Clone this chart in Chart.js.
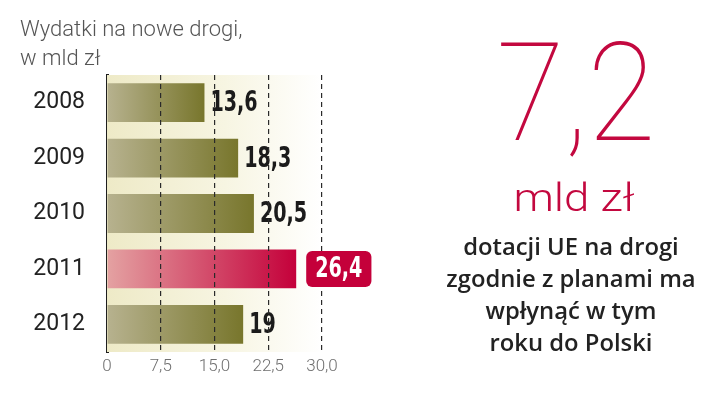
<!DOCTYPE html>
<html>
<head>
<meta charset="utf-8">
<script src="https://cdn.jsdelivr.net/npm/chart.js@4.4.1/dist/chart.umd.min.js"></script>
<style>
  html, body { margin: 0; padding: 0; background: #ffffff; }
  #wrap { position: relative; width: 720px; height: 399px; overflow: hidden; }
  #c { position: absolute; left: 0; top: 0; }
  .t { position: absolute; white-space: nowrap; }
  #title { left: 20px; top: 14px; font: 300 22px/29px Roboto, sans-serif; color: #555; }
  #big { left: 576px; top: 18px; transform: translateX(-50%) scaleX(0.9); font: 100 138px/150px Roboto, sans-serif; color: #c3083f; }
  #unit { left: 574px; top: 175px; transform: translateX(-50%) scaleX(1.2); font: 300 38px/46px Roboto, sans-serif; color: #c3083f; }
  #desc { left: 571px; top: 230px; transform: translateX(-50%); text-align: center; font: 600 23.8px/32px "Open Sans", sans-serif; color: #222; }
</style>
</head>
<body>
<div id="wrap">
  <canvas id="c" width="720" height="399"></canvas>
  <div class="t" id="title">Wydatki na nowe drogi,<br>w mld zł</div>
  <div class="t" id="big">7,2</div>
  <div class="t" id="unit">mld zł</div>
  <div class="t" id="desc">dotacji UE na drogi<br>zgodnie z planami ma<br>wpłynąć w tym<br>roku do Polski</div>
</div>
<script>
// ---- data ----
const years = ['2008', '2009', '2010', '2011', '2012'];
const values = [13.6, 18.3, 20.5, 26.4, 19];
const highlightIndex = 3;
const xTicks = [0, 7.5, 15, 22.5, 30];
const xTickLabels = ['0', '7,5', '15,0', '22,5', '30,0'];

const fmt = v => String(v).replace('.', ',');

function barGradient(ctx) {
  const chart = ctx.chart;
  const area = chart.chartArea;
  if (!area || ctx.dataIndex === undefined) return '#8a8640';
  const xs = chart.scales.x;
  const x0 = area.left;
  const x1 = xs.getPixelForValue(values[ctx.dataIndex]);
  const g = chart.ctx.createLinearGradient(x0, 0, Math.max(x1, x0 + 1), 0);
  if (ctx.dataIndex === highlightIndex) {
    g.addColorStop(0, '#e4a2a2');
    g.addColorStop(1, '#c4003a');
  } else {
    g.addColorStop(0, '#b7b28f');
    g.addColorStop(1, '#78762c');
  }
  return g;
}

const bgPlugin = {
  id: 'bg',
  beforeDatasetsDraw(chart) {
    const { ctx, chartArea: a } = chart;
    const g = ctx.createLinearGradient(a.left, 0, a.right, 0);
    g.addColorStop(0, '#eeeac7');
    g.addColorStop(0.55, '#f7f5e2');
    g.addColorStop(1, '#ffffff');
    ctx.save();
    ctx.fillStyle = g;
    ctx.fillRect(a.left, a.top, a.right - a.left, a.bottom - a.top);
    ctx.restore();
  }
};

const labelFont = 'bold 29px "DejaVu Sans", sans-serif';
const squeeze = 0.66;

function drawSqueezed(ctx, txt, x, y) {
  ctx.save();
  ctx.translate(x, y);
  ctx.scale(squeeze, 1);
  ctx.fillText(txt, 0, 0);
  ctx.restore();
}

const labelPlugin = {
  id: 'vlabels',
  afterDatasetsDraw(chart) {
    const { ctx } = chart;
    const meta = chart.getDatasetMeta(0);
    ctx.save();
    ctx.font = labelFont;
    ctx.textBaseline = 'middle';
    ctx.textAlign = 'left';
    ctx.fillStyle = '#1b1b1b';
    meta.data.forEach((bar, i) => {
      if (i === highlightIndex) return;
      drawSqueezed(ctx, fmt(values[i]), bar.x + 6, bar.y + 1);
    });
    ctx.restore();
  },
  afterDraw(chart) {
    const { ctx } = chart;
    const bar = chart.getDatasetMeta(0).data[highlightIndex];
    const txt = fmt(values[highlightIndex]);
    ctx.save();
    ctx.font = labelFont;
    const w = ctx.measureText(txt).width * squeeze;
    const bx = bar.x + 10, by = bar.y - 18, bw = w + 18, bh = 36;
    ctx.fillStyle = '#c4003a';
    ctx.beginPath();
    ctx.roundRect(bx, by, bw, bh, 6);
    ctx.fill();
    ctx.fillStyle = '#ffffff';
    ctx.textBaseline = 'middle';
    ctx.textAlign = 'left';
    drawSqueezed(ctx, txt, bx + 9, bar.y + 1);
    ctx.restore();
  }
};

new Chart(document.getElementById('c'), {
  type: 'bar',
  data: {
    labels: years,
    datasets: [{
      data: values,
      backgroundColor: barGradient,
      borderWidth: 0,
      barPercentage: 0.7,
      categoryPercentage: 1.0
    }]
  },
  options: {
    indexAxis: 'y',
    responsive: false,
    animation: false,
    events: [],
    layout: { padding: { top: 75, right: 398, bottom: 0, left: 0 } },
    plugins: { legend: { display: false }, tooltip: { enabled: false } },
    scales: {
      x: {
        min: 0,
        max: 30,
        afterBuildTicks: s => { s.ticks = xTicks.map(v => ({ value: v })); },
        afterFit: s => { s.height = 47; },
        grid: {
          z: 1,
          drawTicks: false,
          color: c => (c.tick && c.tick.value === 0) ? 'rgba(0,0,0,0)' : '#2a2a2a',
          lineWidth: 1.2
        },
        border: { display: false, dash: [5, 4] },
        ticks: {
          padding: 5,
          color: '#6f6f6f',
          font: { family: 'Roboto', weight: '300', size: 17 },
          callback: (v, i) => xTickLabels[i]
        }
      },
      y: {
        afterFit: s => { s.width = 107; },
        grid: { display: false, drawTicks: false },
        border: { display: true, color: '#1e1e1e', width: 3 },
        ticks: {
          padding: 22,
          color: '#222',
          font: { family: 'Roboto', weight: '400', size: 23 }
        }
      }
    }
  },
  plugins: [bgPlugin, labelPlugin]
});
</script>
</body>
</html>
